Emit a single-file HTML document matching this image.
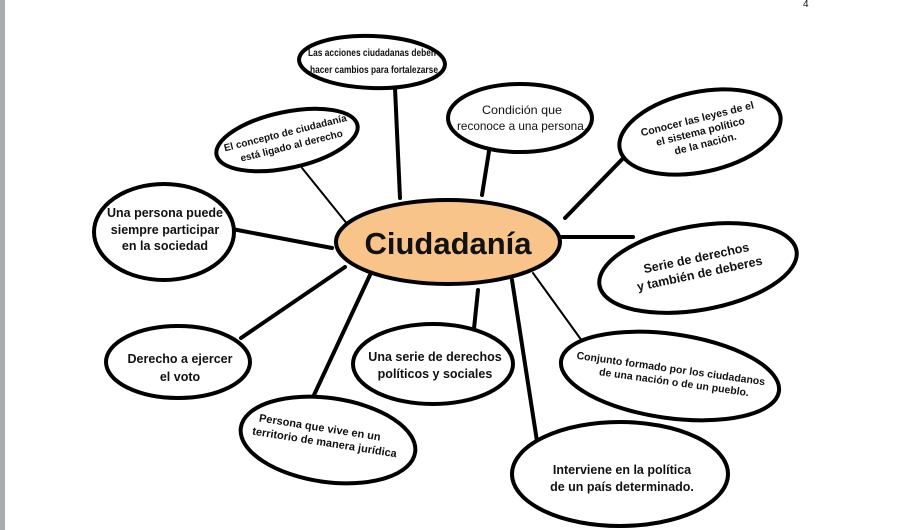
<!DOCTYPE html>
<html><head><meta charset="utf-8"><style>
html,body{margin:0;padding:0;background:#fff;}
svg{display:block;}
text{font-family:"Liberation Sans",sans-serif;fill:#111;}
</style></head><body>
<svg width="920" height="530" viewBox="0 0 920 530">
<rect x="0" y="0" width="5" height="530" fill="#a8abb0"/>
<text x="803" y="7" font-size="10" fill="#333">4</text>
<g stroke="#000" fill="none" stroke-linecap="round">
<line x1="395" y1="88" x2="400" y2="198" stroke-width="4"/>
<line x1="302" y1="168" x2="348" y2="225" stroke-width="2"/>
<line x1="232" y1="229" x2="332" y2="248" stroke-width="4"/>
<line x1="490" y1="145" x2="482" y2="195" stroke-width="4"/>
<line x1="636" y1="145" x2="565" y2="218" stroke-width="4"/>
<line x1="560" y1="237" x2="633" y2="237" stroke-width="4"/>
<line x1="345" y1="267" x2="241" y2="338" stroke-width="4"/>
<line x1="370" y1="275" x2="307" y2="410" stroke-width="4"/>
<line x1="478" y1="290" x2="472" y2="348" stroke-width="4"/>
<line x1="512" y1="280" x2="543" y2="480" stroke-width="4"/>
<line x1="533" y1="273" x2="590" y2="352" stroke-width="2"/>
</g>
<g stroke="#000" stroke-width="4" fill="#fff">
<ellipse cx="372" cy="62" rx="73" ry="26" transform="rotate(2 372 62)"/>
<ellipse cx="287" cy="140" rx="72" ry="28" transform="rotate(-12 287 140)"/>
<ellipse cx="164" cy="232" rx="70" ry="48"/>
<ellipse cx="520" cy="118" rx="72" ry="34"/>
<ellipse cx="700" cy="132" rx="82" ry="40" transform="rotate(-12 700 132)"/>
<ellipse cx="698" cy="268" rx="100" ry="42" transform="rotate(-10 698 268)"/>
<ellipse cx="178" cy="362" rx="72" ry="36"/>
<ellipse cx="433" cy="364" rx="80" ry="40"/>
<ellipse cx="670" cy="376" rx="110" ry="42" transform="rotate(8 670 376)"/>
<ellipse cx="328" cy="440" rx="88" ry="42" transform="rotate(8 328 440)"/>
<ellipse cx="620" cy="474" rx="108" ry="52"/>
<ellipse cx="448" cy="242" rx="112" ry="42" fill="#f8c48a"/>
</g>
<text x="448" y="254" font-size="31" font-weight="bold" text-anchor="middle">Ciudadanía</text>
<g font-size="11" text-anchor="middle">
<text x="372" y="56" font-size="10.5" font-weight="bold" textLength="128" lengthAdjust="spacingAndGlyphs">Las acciones ciudadanas deben</text>
<text x="374" y="73" font-size="10.5" font-weight="bold" textLength="128" lengthAdjust="spacingAndGlyphs">hacer cambios para fortalezarse</text>
<g transform="rotate(-14 287 140)" font-weight="bold"><text x="287" y="136" font-size="10">El concepto de ciudadanía</text><text x="290" y="150" font-size="10">está ligado al derecho</text></g>
<text x="165" y="217" font-size="12.5" font-weight="bold">Una persona puede</text>
<text x="165" y="234" font-size="12.5" font-weight="bold">siempre participar</text>
<text x="165" y="250" font-size="12.5" font-weight="bold">en la sociedad</text>
<text x="522" y="114" font-size="12" textLength="80" lengthAdjust="spacingAndGlyphs">Condición que</text>
<text x="522" y="130" font-size="12" textLength="130" lengthAdjust="spacingAndGlyphs">reconoce a una persona.</text>
<g transform="rotate(-14 700 130)" font-size="10.5" font-weight="bold"><text x="700" y="122">Conocer las leyes de el</text><text x="700" y="135">el sistema político</text><text x="702" y="148">de la nación.</text></g>
<g transform="rotate(-12 698 266)" font-size="12.5" font-weight="bold"><text x="698" y="262">Serie de derechos</text><text x="698" y="278">y también de deberes</text></g>
<text x="180" y="363" font-size="12.5" font-weight="bold">Derecho a ejercer</text>
<text x="180" y="381" font-size="12.5" font-weight="bold">el  voto</text>
<text x="435" y="361" font-size="12.5" font-weight="bold">Una serie de derechos</text>
<text x="435" y="378" font-size="12.5" font-weight="bold">políticos y sociales</text>
<g transform="rotate(8 670 375)" font-size="10.5" font-weight="bold"><text x="670" y="372">Conjunto formado por los ciudadanos</text><text x="675" y="385">de una nación o de un pueblo.</text></g>
<g transform="rotate(9 325 440)" font-size="11" font-weight="bold"><text x="318" y="432">Persona que vive en un</text><text x="325" y="446">territorio de manera jurídica</text></g>
<text x="622" y="474" font-size="12.5" font-weight="bold">Interviene en la política</text>
<text x="622" y="491" font-size="12.5" font-weight="bold">de un país determinado.</text>
</g>
</svg>
</body></html>
